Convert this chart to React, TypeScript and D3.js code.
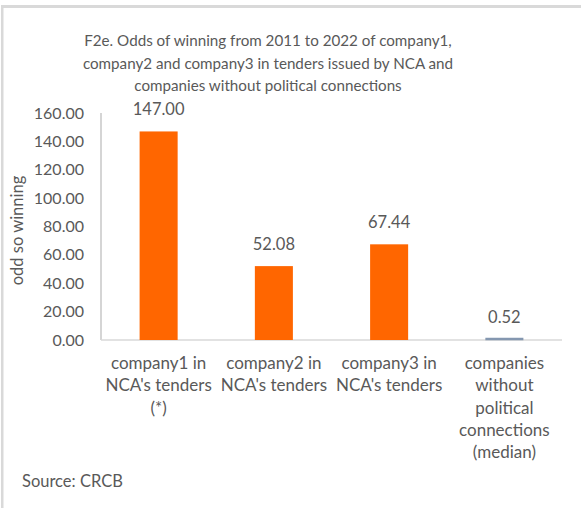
import React from "react";
import * as d3 from "d3";

const categories: string[][] = [
  ["company1 in", "NCA's tenders", "(*)"],
  ["company2 in", "NCA's tenders"],
  ["company3 in", "NCA's tenders"],
  ["companies", "without", "political", "connections", "(median)"],
];
const values: number[] = [147.0, 52.08, 67.44, 0.52];
const barColors: string[] = ["#FF6600", "#FF6600", "#FF6600", "#8497B0"];
const yTicks: number[] = [0, 20, 40, 60, 80, 100, 120, 140, 160];
const titleLines: string[] = [
  "F2e. Odds of winning from 2011 to 2022 of company1,",
  "company2 and company3 in tenders issued by NCA and",
  "companies without political connections",
];
const yLabel = "odd so winning";
const source = "Source: CRCB";

const W = 581;
const H = 508;
const FONT = "Lato, 'Open Sans', sans-serif";
const TXT = "#595959";

export default function App() {
  const left = 101, right = 562, top = 113, bottom = 340;
  const x = d3.scaleBand<number>().domain(values.map((_, i) => i)).range([left, right]).paddingInner(0.67).paddingOuter(0.335);
  const y = d3.scaleLinear().domain([0, 160]).range([bottom, top]);
  return (
    <svg width={W} height={H} style={{ position: "absolute", left: 0, top: 0 }}>
      <rect x={0} y={0} width={W} height={H} fill="#fff" />
      <rect x={1} y={5} width={W} height={3} fill="#d9d9d9" />
      <rect x={1} y={5} width={2.5} height={H} fill="#d9d9d9" />
      {titleLines.map((t, i) => (
        <text key={i} x={268} y={46 + i * 22.5} textAnchor="middle" fontFamily={FONT} fontSize={15.2} fill={TXT}>{t}</text>
      ))}
      <line x1={left} x2={left} y1={top} y2={bottom} stroke="#bfbfbf" strokeWidth={1.3} />
      <line x1={left} x2={right} y1={bottom} y2={bottom} stroke="#d9d9d9" strokeWidth={1.3} />
      {yTicks.map((t) => (
        <text key={t} x={84} y={y(t) + 5.5} textAnchor="end" fontFamily={FONT} fontSize={16} fill={TXT}>{t.toFixed(2)}</text>
      ))}
      <text transform={`translate(23,${(top + bottom) / 2 + 4}) rotate(-90)`} textAnchor="middle" fontFamily={FONT} fontSize={16.5} fill={TXT}>{yLabel}</text>
      {values.map((v, i) => (
        <g key={i}>
          <rect x={x(i)!} y={y(v) - (v < 2 ? 1.5 : 0)} width={x.bandwidth()} height={Math.max(bottom - y(v), 2.5)} fill={barColors[i]} />
          <text x={x(i)! + x.bandwidth() / 2} y={y(v) - 16} textAnchor="middle" fontFamily={FONT} fontSize={16.5} fill={TXT}>{v.toFixed(2)}</text>
        </g>
      ))}
      {categories.map((lines, i) => (
        <text key={i} textAnchor="middle" fontFamily={FONT} fontSize={17} fill={TXT}>
          {lines.map((l, j) => (
            <tspan key={j} x={x(i)! + x.bandwidth() / 2} y={369 + j * 22.3}>{l}</tspan>
          ))}
        </text>
      ))}
      <text x={22} y={487} fontFamily={FONT} fontSize={16.5} fill={TXT}>{source}</text>
    </svg>
  );
}
